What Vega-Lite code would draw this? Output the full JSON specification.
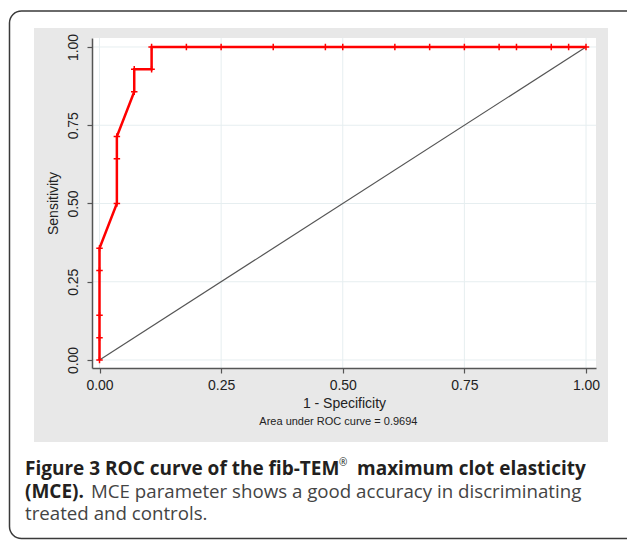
{
  "$schema": "https://vega.github.io/schema/vega-lite/v6.json",
  "width": 504,
  "height": 330,
  "autosize": {"type": "none"},
  "padding": {"left": 92, "top": 38, "right": 31, "bottom": 172},
  "background": "white",
  "config": {
    "view": {"stroke": null, "fill": "white"},
    "axis": {
      "labelFont": "Liberation Sans",
      "labelFontSize": 14,
      "labelColor": "#222222",
      "titleFont": "Liberation Sans",
      "titleFontSize": 14,
      "titleFontWeight": "normal",
      "titleColor": "#222222",
      "domainColor": "#555555",
      "domainWidth": 1.5,
      "tickColor": "#555555",
      "tickWidth": 1.2,
      "tickSize": 5,
      "grid": false
    },
    "rule": {"color": "#e6eef0", "strokeWidth": 1}
  },
  "datasets": {
    "roc": [
      {"i": 0, "fpr": 0, "sens": 0},
      {"i": 1, "fpr": 0, "sens": 0.0714},
      {"i": 2, "fpr": 0, "sens": 0.1429},
      {"i": 3, "fpr": 0, "sens": 0.2857},
      {"i": 4, "fpr": 0, "sens": 0.3571},
      {"i": 5, "fpr": 0.0357, "sens": 0.5},
      {"i": 6, "fpr": 0.0357, "sens": 0.6429},
      {"i": 7, "fpr": 0.0357, "sens": 0.7143},
      {"i": 8, "fpr": 0.0714, "sens": 0.8571},
      {"i": 9, "fpr": 0.0714, "sens": 0.9286},
      {"i": 10, "fpr": 0.1071, "sens": 0.9286},
      {"i": 11, "fpr": 0.1071, "sens": 1},
      {"i": 12, "fpr": 0.1786, "sens": 1},
      {"i": 13, "fpr": 0.25, "sens": 1},
      {"i": 14, "fpr": 0.3571, "sens": 1},
      {"i": 15, "fpr": 0.4643, "sens": 1},
      {"i": 16, "fpr": 0.5, "sens": 1},
      {"i": 17, "fpr": 0.6071, "sens": 1},
      {"i": 18, "fpr": 0.6786, "sens": 1},
      {"i": 19, "fpr": 0.75, "sens": 1},
      {"i": 20, "fpr": 0.8214, "sens": 1},
      {"i": 21, "fpr": 0.8571, "sens": 1},
      {"i": 22, "fpr": 0.9286, "sens": 1},
      {"i": 23, "fpr": 0.9643, "sens": 1},
      {"i": 24, "fpr": 1, "sens": 1}
    ],
    "one": [{}]
  },
  "layer": [
    {
      "data": {"name": "one"},
      "mark": {"type": "rect", "fill": "white", "stroke": "#3a3a3a", "strokeWidth": 1.5, "cornerRadius": 12},
      "encoding": {
        "x": {"datum": -0.185, "type": "quantitative", "scale": {"domain": [-0.01542, 1.02055], "nice": false, "zero": false}},
        "x2": {"datum": 1.15},
        "y": {"datum": 1.115, "type": "quantitative", "scale": {"domain": [-0.02556, 1.02875], "nice": false, "zero": false}},
        "y2": {"datum": -0.5703}
      }
    },
    {
      "data": {"name": "one"},
      "mark": {"type": "rect", "fill": "#e8e8e8"},
      "encoding": {
        "x": {"datum": -0.1346, "type": "quantitative"},
        "x2": {"datum": 1.0452},
        "y": {"datum": 1.0607, "type": "quantitative"},
        "y2": {"datum": -0.262}
      }
    },
    {
      "data": {"name": "one"},
      "mark": {"type": "rect", "fill": "white"},
      "encoding": {
        "x": {"datum": -0.01542, "type": "quantitative"},
        "x2": {"datum": 1.02055},
        "y": {"datum": 1.02875, "type": "quantitative"},
        "y2": {"datum": -0.02556}
      }
    },
    {"data": {"name": "one"}, "mark": {"type": "rule"}, "encoding": {"x": {"datum": 0, "type": "quantitative"}}},
    {"data": {"name": "one"}, "mark": {"type": "rule"}, "encoding": {"x": {"datum": 0.25, "type": "quantitative"}}},
    {"data": {"name": "one"}, "mark": {"type": "rule"}, "encoding": {"x": {"datum": 0.5, "type": "quantitative"}}},
    {"data": {"name": "one"}, "mark": {"type": "rule"}, "encoding": {"x": {"datum": 0.75, "type": "quantitative"}}},
    {"data": {"name": "one"}, "mark": {"type": "rule"}, "encoding": {"x": {"datum": 1, "type": "quantitative"}}},
    {"data": {"name": "one"}, "mark": {"type": "rule"}, "encoding": {"y": {"datum": 0, "type": "quantitative"}}},
    {"data": {"name": "one"}, "mark": {"type": "rule"}, "encoding": {"y": {"datum": 0.25, "type": "quantitative"}}},
    {"data": {"name": "one"}, "mark": {"type": "rule"}, "encoding": {"y": {"datum": 0.5, "type": "quantitative"}}},
    {"data": {"name": "one"}, "mark": {"type": "rule"}, "encoding": {"y": {"datum": 0.75, "type": "quantitative"}}},
    {"data": {"name": "one"}, "mark": {"type": "rule"}, "encoding": {"y": {"datum": 1, "type": "quantitative"}}},
    {
      "data": {"name": "one"},
      "mark": {"type": "rule", "color": "#555555", "strokeWidth": 1.2},
      "encoding": {
        "x": {"datum": 0, "type": "quantitative"},
        "x2": {"datum": 1},
        "y": {"datum": 0, "type": "quantitative"},
        "y2": {"datum": 1}
      }
    },
    {
      "data": {"name": "roc"},
      "mark": {"type": "line", "color": "#ff0000", "strokeWidth": 2.5},
      "encoding": {
        "x": {"field": "fpr", "type": "quantitative",
          "scale": {"domain": [-0.01542, 1.02055], "nice": false, "zero": false},
          "axis": {"zindex": 1, "values": [0, 0.25, 0.5, 0.75, 1], "format": ".2f", "title": "1 - Specificity", "labelPadding": 5, "titlePadding": 4}},
        "y": {"field": "sens", "type": "quantitative",
          "scale": {"domain": [-0.02556, 1.02875], "nice": false, "zero": false},
          "axis": {"zindex": 1, "values": [0, 0.25, 0.5, 0.75, 1], "format": ".2f", "title": "Sensitivity", "labelAngle": -90, "labelAlign": "center", "labelBaseline": "alphabetic", "labelPadding": 10, "titlePadding": 6}},
        "order": {"field": "i", "type": "quantitative"}
      }
    },
    {
      "data": {"name": "roc"},
      "mark": {"type": "point", "shape": "M-1,0H1M0,-1V1", "filled": false, "stroke": "#ff0000", "strokeWidth": 1.5, "size": 42, "opacity": 1},
      "encoding": {
        "x": {"field": "fpr", "type": "quantitative"},
        "y": {"field": "sens", "type": "quantitative"}
      }
    },
    {
      "data": {"name": "one"},
      "mark": {"type": "text", "font": "Liberation Sans", "fontSize": 11, "color": "#222222", "align": "center", "baseline": "middle", "text": "Area under ROC curve = 0.9694"},
      "encoding": {"x": {"datum": 0.491, "type": "quantitative"}, "y": {"datum": -0.198, "type": "quantitative"}}
    },
    {
      "data": {"name": "one"},
      "mark": {"type": "text", "font": "Open Sans", "fontSize": 19, "fontWeight": "bold", "color": "#231f20", "align": "left", "baseline": "alphabetic", "text": "Figure 3 ROC curve of the fib-TEM"},
      "encoding": {"x": {"datum": -0.1531, "type": "quantitative"}, "y": {"datum": -0.3674, "type": "quantitative"}}
    },
    {
      "data": {"name": "one"},
      "mark": {"type": "text", "font": "Open Sans", "fontSize": 10, "color": "#231f20", "align": "left", "baseline": "alphabetic", "text": "®"},
      "encoding": {"x": {"datum": 0.4923, "type": "quantitative"}, "y": {"datum": -0.3387, "type": "quantitative"}}
    },
    {
      "data": {"name": "one"},
      "mark": {"type": "text", "font": "Open Sans", "fontSize": 19, "fontWeight": "bold", "color": "#231f20", "align": "left", "baseline": "alphabetic", "text": "maximum clot elasticity"},
      "encoding": {"x": {"datum": 0.5293, "type": "quantitative"}, "y": {"datum": -0.3674, "type": "quantitative"}}
    },
    {
      "data": {"name": "one"},
      "mark": {"type": "text", "font": "Open Sans", "fontSize": 19, "fontWeight": "bold", "color": "#231f20", "align": "left", "baseline": "alphabetic", "text": "(MCE)."},
      "encoding": {"x": {"datum": -0.1531, "type": "quantitative"}, "y": {"datum": -0.4409, "type": "quantitative"}}
    },
    {
      "data": {"name": "one"},
      "mark": {"type": "text", "font": "Open Sans", "fontSize": 18.7, "color": "#444444", "align": "left", "baseline": "alphabetic", "text": "MCE parameter shows a good accuracy in discriminating"},
      "encoding": {"x": {"datum": -0.01747, "type": "quantitative"}, "y": {"datum": -0.4409, "type": "quantitative"}}
    },
    {
      "data": {"name": "one"},
      "mark": {"type": "text", "font": "Open Sans", "fontSize": 18.7, "color": "#444444", "align": "left", "baseline": "alphabetic", "text": "treated and controls."},
      "encoding": {"x": {"datum": -0.1531, "type": "quantitative"}, "y": {"datum": -0.5112, "type": "quantitative"}}
    }
  ]
}
